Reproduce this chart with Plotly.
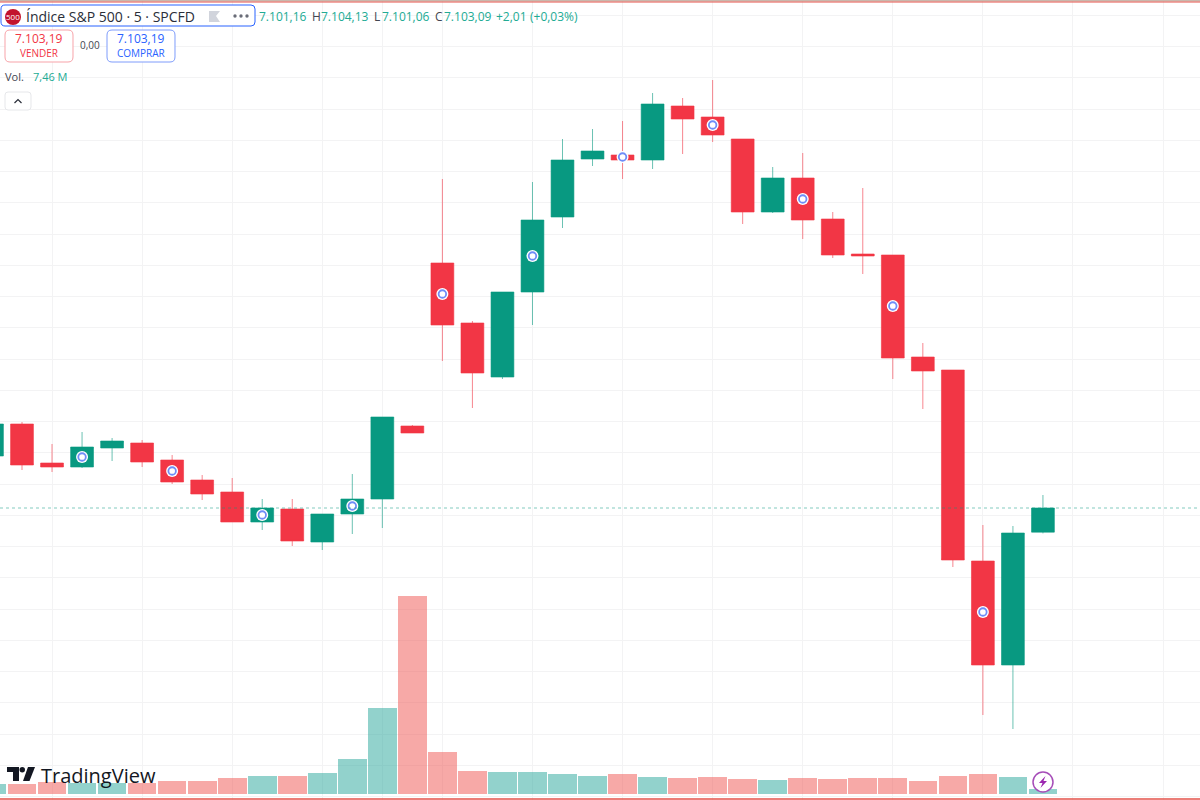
import plotly.graph_objects as go

# ---------- data ----------
bars = list(range(-1, 35))
opens = [7107.25,7109.81,7106.69,7106.37,7107.89,7108.29,7106.93,7105.33,7104.37,7101.97,7103.01,7100.37,7102.61,7103.81,7109.65,7122.69,7117.89,7113.57,7120.37,7126.37,7131.01,7131.33,7130.93,7135.25,7134.37,7132.61,7126.77,7129.49,7126.21,7123.41,7123.33,7115.17,7114.13,7098.85,7090.53,7101.16]
highs = [7109.81,7109.97,7108.21,7109.17,7108.69,7108.53,7107.33,7105.73,7105.49,7103.81,7103.81,7102.61,7105.81,7110.37,7109.73,7129.41,7118.05,7120.37,7129.17,7132.61,7133.41,7134.05,7136.29,7135.89,7137.33,7132.61,7130.37,7131.49,7126.77,7128.69,7123.33,7116.29,7114.13,7101.73,7101.65,7104.13]
lows = [7107.25,7106.13,7105.97,7106.29,7106.85,7106.37,7105.01,7103.73,7101.97,7101.33,7100.05,7099.73,7101.01,7101.49,7109.09,7114.85,7111.09,7113.41,7117.73,7125.49,7130.45,7129.41,7130.21,7131.41,7132.37,7125.81,7126.69,7124.61,7123.09,7121.81,7113.41,7111.01,7098.37,7086.53,7085.41,7101.06]
closes = [7109.81,7106.53,7106.37,7107.97,7108.45,7106.77,7105.17,7104.21,7101.97,7103.09,7100.45,7102.61,7103.81,7110.37,7109.09,7117.73,7113.89,7120.37,7126.13,7130.93,7131.65,7130.93,7135.41,7134.21,7132.93,7126.77,7129.49,7126.13,7123.33,7123.25,7115.09,7114.05,7098.93,7090.53,7101.09,7103.09]
volumes = [14.9,14.9,17.9,16.4,16.4,16.4,19.4,19.4,23.9,26.9,26.9,31.3,52.2,127.6,295.4,62.7,33.6,32.8,32.8,29.8,26.9,29.8,25.4,23.9,25.4,22.4,20.9,23.9,22.4,23.9,23.9,19.4,26.9,29.8,25.4,7.46]

event_bars = [2, 5, 8, 11, 14, 17, 20, 23, 26, 29, 32]
event_prices = [7107.17,7106.05,7102.53,7103.25,7120.21,7123.25,7131.17,7133.73,7127.81,7119.25,7094.77]

grid_bars = [1, 4, 7, 10, 12, 14, 17, 20, 23, 26, 29, 32, 35, 38]
last_price = closes[-1]

title_text = "Índice S&P 500 · 5 · SPCFD"
ohlc_text = [("7.101,16", 259, "v"), ("H", 312, "d"), ("7.104,13", 321, "v"), ("L", 374, "d"),
             ("7.101,06", 382, "v"), ("C", 435, "d"), ("7.103,09", 444, "v"),
             ("+2,01", 496, "v"), ("(+0,03%)", 530, "v")]

# ---------- style ----------
W, H = 1200, 800
GREEN = "#089981"
RED = "#F23645"
BLUE = "#2962FF"
DARK = "#434651"
FONT = "Open Sans"

def px(x): return x / W
def py(y): return 1 - y / H

def rrect(x0, y0, x1, y1, r):
    X = lambda v: f"{px(v):.5f}"
    Y = lambda v: f"{py(v):.5f}"
    return (f"M {X(x0+r)} {Y(y0)} L {X(x1-r)} {Y(y0)} Q {X(x1)} {Y(y0)} {X(x1)} {Y(y0+r)} "
            f"L {X(x1)} {Y(y1-r)} Q {X(x1)} {Y(y1)} {X(x1-r)} {Y(y1)} "
            f"L {X(x0+r)} {Y(y1)} Q {X(x0)} {Y(y1)} {X(x0)} {Y(y1-r)} "
            f"L {X(x0)} {Y(y0+r)} Q {X(x0)} {Y(y0)} {X(x0+r)} {Y(y0)} Z")

def poly(pts):
    return "M " + " L ".join(f"{px(a):.5f} {py(b):.5f}" for a, b in pts) + " Z"

def box(x0, y0, x1, y1, r, line, fill="white", w=1):
    return dict(type="path", xref="paper", yref="paper", path=rrect(x0, y0, x1, y1, r),
                line=dict(color=line, width=w), fillcolor=fill)

def fillpoly(pts, color):
    return dict(type="path", xref="paper", yref="paper", path=poly(pts),
                line=dict(width=0), fillcolor=color)

def label(text, x, y, size=12, color=DARK, anchor="left", weight=None):
    d = dict(text=text, x=px(x), y=py(y), xref="paper", yref="paper", showarrow=False,
             xanchor=anchor, yanchor="middle", borderpad=0, borderwidth=0,
             font=dict(family=FONT, size=size, color=color))
    if weight:
        d["font"]["weight"] = weight
    return d

vol_colors = ["rgba(38,166,154,0.5)" if c >= o else "rgba(239,83,80,0.5)"
              for o, c in zip(opens, closes)]

fig = go.Figure()
fig.add_trace(go.Bar(x=bars, y=volumes, marker=dict(color=vol_colors, line=dict(width=0)),
                     width=0.955, yaxis="y", showlegend=False))
fig.add_trace(go.Candlestick(
    x=bars, open=opens, high=highs, low=lows, close=closes, yaxis="y2", showlegend=False,
    whiskerwidth=0,
    increasing=dict(line=dict(color="rgba(8,153,129,0.6)", width=1), fillcolor=GREEN),
    decreasing=dict(line=dict(color="rgba(242,54,69,0.6)", width=1), fillcolor=RED)))
fig.add_trace(go.Scatter(x=event_bars, y=event_prices, mode="markers", yaxis="y2", showlegend=False,
                         marker=dict(size=12, color="white", line=dict(width=0))))
fig.add_trace(go.Scatter(x=event_bars, y=event_prices, mode="markers", yaxis="y2", showlegend=False,
                         marker=dict(size=7.5, color="white", line=dict(width=1.8, color="#6F8DF7"))))

shapes = [
    dict(type="line", xref="paper", x0=0, x1=1, yref="y2", y0=last_price, y1=last_price,
         line=dict(color="rgba(8,153,129,0.5)", width=1, dash="dot")),
    # window edges
    dict(type="rect", xref="paper", yref="paper", x0=0, x1=1, y0=py(1.5), y1=py(0),
         fillcolor="#C9B8AC", line=dict(width=0)),
    dict(type="line", xref="paper", yref="paper", x0=0, x1=1, y0=py(2), y1=py(2),
         line=dict(color="#E5534B", width=1)),
    dict(type="line", xref="paper", yref="paper", x0=0, x1=1, y0=py(799), y1=py(799),
         line=dict(color="#E5534B", width=1.5)),
    # legend boxes
    box(1, 5, 255, 26, 4, BLUE),
    box(5, 30, 73, 62, 5, "#F7A3A9"),
    box(107, 30, 175, 62, 5, "#7E9CFB"),
    box(5, 92, 31, 110, 3, "#E6E7EA"),
    # collapse chevron
    dict(type="path", xref="paper", yref="paper",
         path=f"M {px(14.5):.5f} {py(103):.5f} L {px(18):.5f} {py(99.5):.5f} L {px(21.5):.5f} {py(103):.5f}",
         line=dict(color="#2A2E39", width=1.2)),
    # symbol badge
    dict(type="circle", xref="paper", yref="paper", x0=px(5), x1=px(21), y0=py(25), y1=py(9),
         fillcolor="#C2132D", line=dict(width=0)),
    # flag
    fillpoly([(209, 11), (220, 11), (216, 16), (220, 22), (209, 22)], "#D1D4DC"),
    # lightning button
    dict(type="circle", xref="paper", yref="paper", x0=px(1033), x1=px(1053), y0=py(792), y1=py(772),
         fillcolor="white", line=dict(color="#A64DB8", width=1.5)),
    fillpoly([(1045.5, 776), (1039, 783), (1042.5, 783), (1040.5, 788), (1047, 781), (1043.5, 781)], "#9C27B0"),
    # TradingView mark
    fillpoly([(7, 767), (19, 767), (19, 781), (13, 781), (13, 772), (7, 772)], "#131722"),
    fillpoly([(28, 767), (35, 767), (29.5, 781), (23, 781)], "#131722"),
]
shapes.append(dict(type="circle", xref="paper", yref="paper", x0=px(19.5), x1=px(25), y0=py(772.5), y1=py(767),
                   fillcolor="#131722", line=dict(width=0)))
for cx in (235, 241, 247):
    shapes.append(dict(type="circle", xref="paper", yref="paper", x0=px(cx - 1.7), x1=px(cx + 1.7),
                       y0=py(17.7), y1=py(14.3), fillcolor="#6A6D78", line=dict(width=0)))

annotations = [
    label("500", 13, 17, size=8, color="white", anchor="center"),
    label(title_text, 26, 16, size=14, color="#2A2E39"),
    label("7.103,19", 39, 39, size=12, color=RED, anchor="center"),
    label("VENDER", 39, 53, size=10, color=RED, anchor="center"),
    label("0,00", 90, 45, size=10, color=DARK, anchor="center"),
    label("7.103,19", 141, 39, size=12, color=BLUE, anchor="center"),
    label("COMPRAR", 141, 53, size=10, color=BLUE, anchor="center"),
    label("Vol.", 5, 77, size=11, color=DARK),
    label("7,46 M", 33, 77, size=11, color="#22AB94"),
    label("TradingView", 41, 775, size=20, color="#131722", weight=500),
]
for text, x, kind in ohlc_text:
    annotations.append(label(text, x, 16, size=12, color="#22AB94" if kind == "v" else DARK))

fig.update_layout(
    width=W, height=H, margin=dict(l=0, r=0, t=0, b=0, pad=0), autosize=False,
    paper_bgcolor="white", plot_bgcolor="white", showlegend=False,
    boxgap=0.24, boxgroupgap=0, bargap=0,
    font=dict(family=FONT),
    xaxis=dict(range=[-0.7326, 39.23], tickmode="array", tickvals=grid_bars,
               ticktext=[""] * len(grid_bars), showgrid=True, gridcolor="#F3F3F4", gridwidth=1,
               zeroline=False, showline=False, ticks="", rangeslider=dict(visible=False), fixedrange=True),
    yaxis=dict(range=[-8.95, 1184.65], showgrid=False, zeroline=False, showticklabels=False,
               ticks="", showline=False, fixedrange=True),
    yaxis2=dict(range=[7079.73, 7143.73], overlaying="y", side="right", tick0=7102.5, dtick=2.5,
                showgrid=True, gridcolor="#F3F3F4", gridwidth=1, zeroline=False,
                showticklabels=False, ticks="", showline=False, fixedrange=True),
    shapes=shapes, annotations=annotations,
)

fig.write_html("out.html", config=dict(displayModeBar=False),
               post_script="document.body.style.margin='0';document.body.style.overflow='hidden';")
